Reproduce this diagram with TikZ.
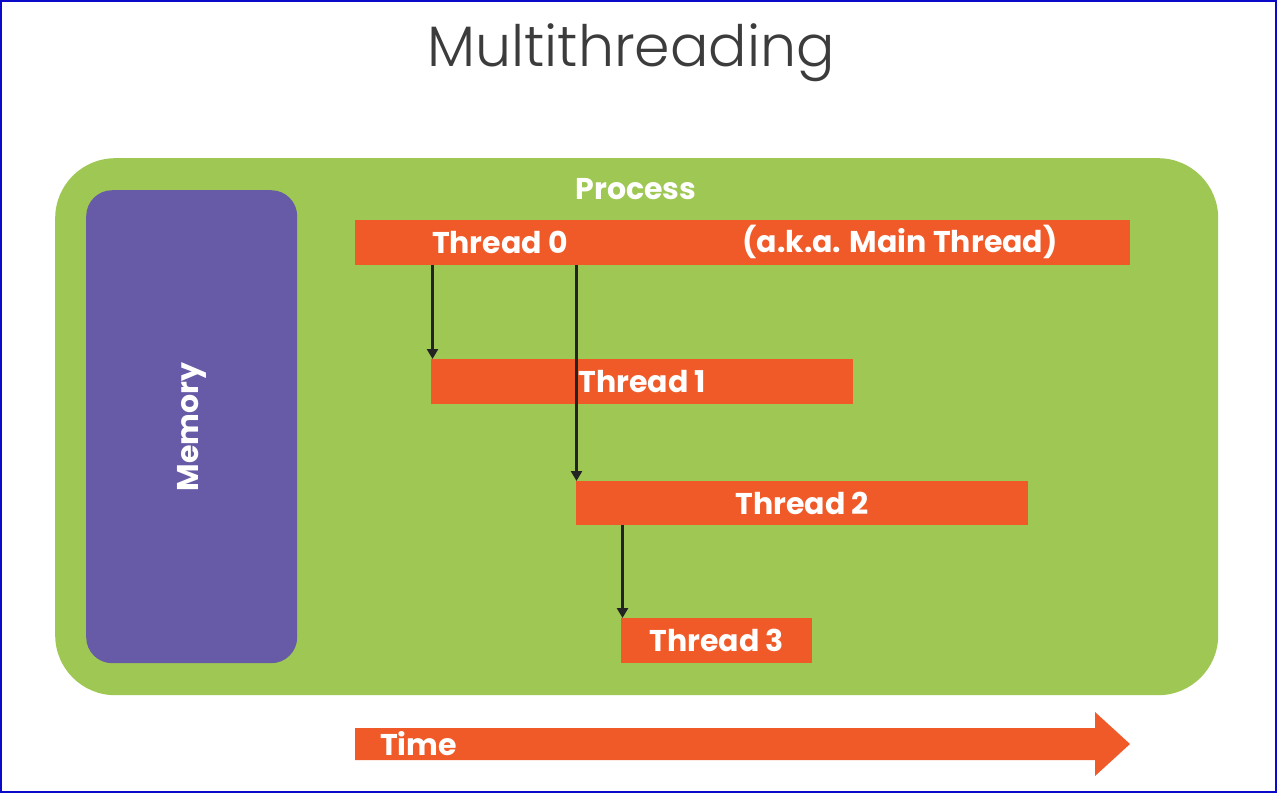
\documentclass[tikz,border=0pt]{standalone}
\usepackage{fontspec}
\setmainfont{Poppins}
\newfontfamily\titlefont{Poppins Light}
\usetikzlibrary{arrows.meta}
\definecolor{procgreen}{RGB}{158,200,83}
\definecolor{mempurple}{RGB}{103,91,167}
\definecolor{thorange}{RGB}{240,90,40}
\definecolor{arrdark}{RGB}{35,35,35}
\definecolor{titlegray}{RGB}{60,60,60}
\definecolor{frameblue}{RGB}{10,10,200}
\begin{document}
\begin{tikzpicture}[x=1pt,y=-1pt,
  bar/.style={fill=thorange, draw=none, inner sep=0pt, anchor=north west},
  lbl/.style={text=white, font=\bfseries\fontsize{30}{33}\selectfont, inner sep=0pt},
  spawn/.style={draw=arrdark, line width=3.5pt, -{Triangle[length=10pt,width=11pt]}}]
\useasboundingbox (0,0) rectangle (1277,793);
\fill[white] (0,0) rectangle (1277,793);
\draw[frameblue, line width=2pt] (1,1) rectangle (1276,792);
\node[text=titlegray, font=\titlefont\fontsize{57}{63}\selectfont, inner sep=0pt] (title) at (631,53) {Multithreading};
% process
\node[fill=procgreen, rounded corners=60pt, minimum width=1163pt, minimum height=537pt, inner sep=0pt, anchor=north west] (proc) at (55,158) {};
\node[lbl] (proclbl) at (636,189) {Process};
% memory
\node[fill=mempurple, rounded corners=26pt, minimum width=211pt, minimum height=473pt, inner sep=0pt, anchor=north west] (mem) at (86,190) {};
\node[lbl, rotate=90] (memlbl) at (mem.center) {Memory};
% threads
\node[bar, minimum width=775pt, minimum height=45pt] (t0) at (355,220) {};
\node[lbl] (t0a) at (500,242) {Thread 0};
\node[lbl] (t0b) at (900,242) {(a.k.a. Main Thread)};
\node[bar, minimum width=422pt, minimum height=45pt] (t1) at (431,359) {};
\node[lbl] at (t1.center) {Thread 1};
\node[bar, minimum width=452pt, minimum height=44pt] (t2) at (576,481) {};
\node[lbl] at (t2.center) {Thread 2};
\node[bar, minimum width=191pt, minimum height=45pt] (t3) at (621,618) {};
\node[lbl] at (t3.center) {Thread 3};
% spawn arrows
\draw[spawn] ([xshift=1.5pt]t1.north west |- t0.south) -- ([xshift=1.5pt]t1.north west);
\draw[spawn] ([xshift=0.5pt]t2.north west |- t0.south) -- ([xshift=0.5pt]t2.north west);
\draw[spawn] ([xshift=1.5pt]t3.north west |- t2.south) -- ([xshift=1.5pt]t3.north west);
% time arrow
\fill[thorange] (355,728) -- (1095,728) -- (1095,712) -- (1130,744) -- (1095,776) -- (1095,760) -- (355,760) -- cycle;
\node[lbl, anchor=west] (time) at (380,744) {Time};
\end{tikzpicture}
\end{document}
